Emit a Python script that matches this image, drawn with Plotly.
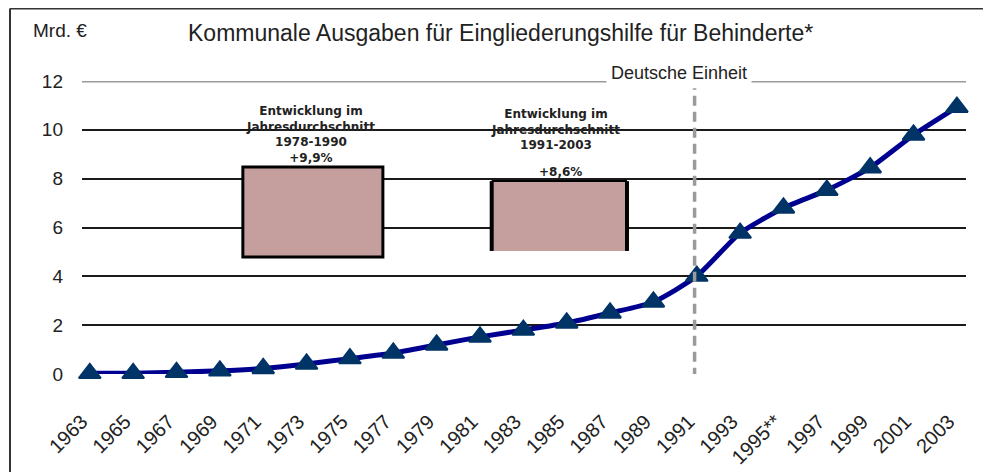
import plotly.graph_objects as go

# Jahre (Beschriftung der x-Achse) und Ausgaben in Mrd. €
jahre = ["1963", "1965", "1967", "1969", "1971", "1973", "1975", "1977", "1979", "1981",
         "1983", "1985", "1987", "1989", "1991", "1993", "1995**", "1997", "1999", "2001", "2003"]
ausgaben = [0.03, 0.03, 0.07, 0.13, 0.23, 0.41, 0.63, 0.86, 1.19, 1.52,
            1.80, 2.09, 2.50, 2.95, 4.01, 5.77, 6.80, 7.53, 8.45, 9.79, 10.93]

y_ticks = [0, 2, 4, 6, 8, 10, 12]

# Jahresdurchschnitt der Entwicklung
zeitraum_1 = "1978-1990"
wachstum_1 = "+9,9%"
zeitraum_2 = "1991-2003"
wachstum_2 = "+8,6%"
einheit_jahr = "1991"

W, H = 991, 472
OFF = 8  # Seitenrand des Browsers
# Plotbereich in Bildkoordinaten
X0, X1, Y0, Y1 = 82, 966, 81, 374
L, T = X0 - OFF, Y0 - OFF
R, B = W - L - (X1 - X0), H - T - (Y1 - Y0)

FONT = "Liberation Sans, Arial, sans-serif"


def px(x):
    # Bild-Pixel -> paper (x)
    return (x - X0) / (X1 - X0)


def py(y):
    # Bild-Pixel -> paper (y)
    return (Y1 - y) / (Y1 - Y0)


x_idx = list(range(len(jahre)))
i_einheit = jahre.index(einheit_jahr)

fig = go.Figure()

fig.add_trace(go.Scatter(
    x=x_idx, y=ausgaben,
    mode="lines+markers",
    line=dict(color="#000090", width=5, shape="spline", smoothing=0.6),
    marker=dict(symbol="triangle-up", size=19, color="#003366",
                line=dict(color="#003366", width=2)),
    cliponaxis=False,
    hoverinfo="x+y",
))

shapes = []

# weisse Flaechen hinter den Textfeldern (unterbrechen die Gitterlinien)
for x0, x1 in [(190, 437.5), (439.5, 680)]:
    shapes.append(dict(type="rect", xref="paper", yref="paper",
                       x0=px(x0), x1=px(x1), y0=py(255), y1=py(100),
                       fillcolor="white", line=dict(width=0), layer="between"))

# graue Linie bei 12
shapes.append(dict(type="line", xref="paper", yref="y", x0=0, x1=1, y0=12, y1=12,
                   line=dict(color="#9a9a9a", width=3), layer="above"))

# Deutsche Einheit
shapes.append(dict(type="line", xref="x", yref="y", x0=i_einheit - 0.05, x1=i_einheit - 0.05,
                   y0=-0.15, y1=11.7,
                   line=dict(color="#9a9a9a", width=3.5, dash="10px,6px"), layer="above"))

# Balken Jahresdurchschnitt
box_fill = "#C59E9E"
shapes.append(dict(type="rect", xref="x", yref="y", x0=3.53, x1=6.76, y0=4.79, y1=8.48,
                   fillcolor=box_fill, line=dict(color="black", width=3), layer="above"))
shapes.append(dict(type="rect", xref="x", yref="y", x0=9.27, x1=12.39, y0=5.04, y1=7.90,
                   fillcolor=box_fill, line=dict(width=0), layer="above"))
for xx in (9.27, 12.39):
    shapes.append(dict(type="line", xref="x", yref="y", x0=xx, x1=xx, y0=5.04, y1=7.90,
                       line=dict(color="black", width=4), layer="above"))
shapes.append(dict(type="line", xref="x", yref="y", x0=9.27, x1=12.39, y0=7.90, y1=7.90,
                   line=dict(color="black", width=2), layer="above"))

# Rahmen
shapes.append(dict(type="line", xref="paper", yref="paper", x0=px(10), x1=px(10),
                   y0=py(8.5), y1=py(480), line=dict(color="#333", width=2)))
shapes.append(dict(type="line", xref="paper", yref="paper", x0=px(10), x1=px(1000),
                   y0=py(8.5), y1=py(8.5), line=dict(color="#333", width=2)))

box_txt = dict(family="DejaVu Sans, sans-serif", size=12, color="#222", weight="bold")
annotations = [
    dict(text="Kommunale Ausgaben für Eingliederungshilfe für Behinderte*",
         xref="paper", yref="paper", x=px(500), y=py(33), xanchor="center", yanchor="middle",
         showarrow=False, font=dict(family=FONT, size=23, color="#222")),
    dict(text="Mrd. €", xref="paper", yref="paper", x=px(60), y=py(31),
         xanchor="center", yanchor="middle", showarrow=False,
         font=dict(family=FONT, size=19, color="#222")),
    dict(text="Deutsche Einheit", xref="paper", yref="paper", x=px(679), y=py(73),
         xanchor="center", yanchor="middle",
         showarrow=False, bgcolor="white", borderpad=4,
         font=dict(family=FONT, size=18, color="#222")),
    dict(text="Entwicklung im<br>Jahresdurchschnitt<br>" + zeitraum_1 + "<br>" + wachstum_1,
         xref="x", yref="y", x=5.08, y=8.48, xanchor="center", yanchor="bottom",
         showarrow=False, font=box_txt),
    dict(text="Entwicklung im<br>Jahresdurchschnitt<br>" + zeitraum_2,
         xref="x", yref="y", x=10.75, y=9.0, xanchor="center", yanchor="bottom",
         showarrow=False, font=box_txt),
    dict(text=wachstum_2, xref="x", yref="y", x=10.85, y=7.90, xanchor="center",
         yanchor="bottom", showarrow=False, font=box_txt),
]

fig.update_layout(
    width=W, height=H,
    margin=dict(l=L, r=R, t=T, b=B),
    plot_bgcolor="white", paper_bgcolor="white",
    showlegend=False,
    shapes=shapes,
    annotations=annotations,
    xaxis=dict(range=[-0.18, 20.21], tickvals=x_idx, ticktext=jahre, tickangle=-45,
               showgrid=False, zeroline=False, showline=False,
               ticklabelstandoff=31, ticklabelshift=-8,
               tickfont=dict(family=FONT, size=20, color="#222")),
    yaxis=dict(range=[0, 12], tickvals=y_ticks, showgrid=True, gridcolor="#1a1a1a",
               gridwidth=1.5, zeroline=False, showline=False, ticklabelstandoff=18,
               tickfont=dict(family=FONT, size=19, color="#222")),
)

fig.write_html("out.html")
